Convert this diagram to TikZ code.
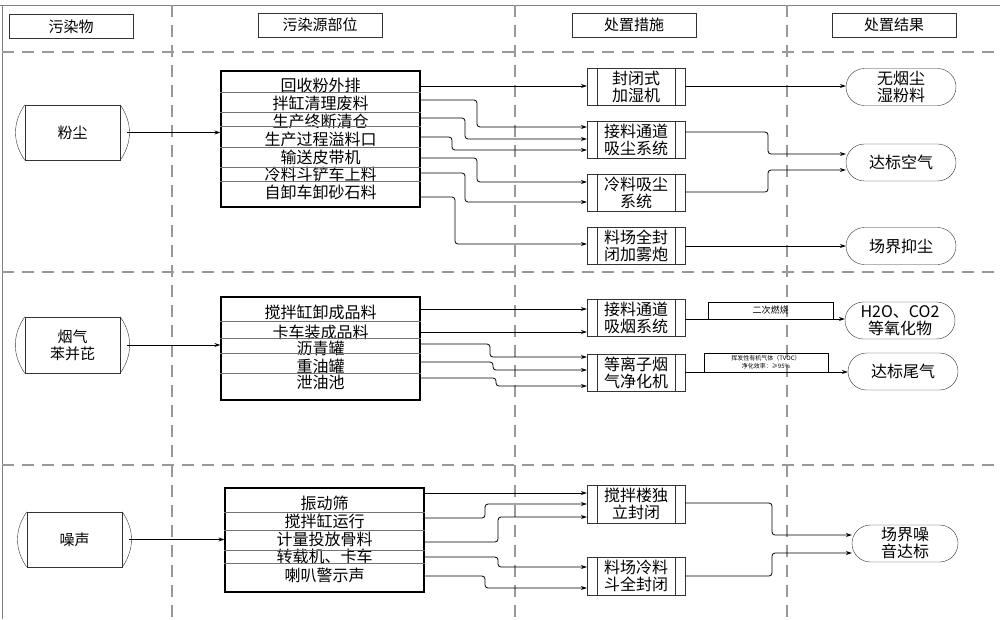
\documentclass[tikz,border=0pt]{standalone}
\usepackage{fontspec}
\setmainfont{Noto Sans CJK SC}
\usetikzlibrary{arrows.meta,shapes.misc}

\begin{document}
\begin{tikzpicture}[x = {(1pt,0pt)},
                    y = {(0pt,-1pt)},
                    color = {black}]
% styles of lanes, boxes and lines
\tikzset{laneline/.style={draw=black!40,line width=1.2pt,dash pattern=on 12pt off 8pt},
         hdbox/.style={draw=black!80,thin,minimum width=124pt,minimum height=24pt,inner sep=0pt,font=\fontsize{15}{17}\selectfont},
         pollu/.style={draw=black!80,thin,minimum width=95pt,minimum height=55pt,inner sep=0pt,align=center,
                       font=\fontsize{15}{17}\selectfont,
                       append after command={(\tikzlastnode.north west) edge[bend right=35,draw=black!80,thin] (\tikzlastnode.south west)
                                             (\tikzlastnode.north east) edge[bend left=35,draw=black!80,thin] (\tikzlastnode.south east)}},
         srcbox/.style={draw,line width=1.3pt,minimum width=199pt,inner sep=0pt},
         srcrow/.style={inner sep=0pt,font=\fontsize{16}{17}\selectfont},
         rowline/.style={draw=black!55,thin},
         proc/.style={draw=black!80,thin,minimum width=98pt,minimum height=37pt,inner sep=0pt,align=center,
                      font=\fontsize{16}{17}\selectfont,
                      path picture={\draw[black!80,thin] ([xshift=10pt]path picture bounding box.north west) -- ([xshift=10pt]path picture bounding box.south west)
                                    ([xshift=-10pt]path picture bounding box.north east) -- ([xshift=-10pt]path picture bounding box.south east);}},
         endbox/.style={draw=black!80,thin,rounded rectangle,minimum width=110pt,minimum height=37pt,inner sep=0pt,align=center,
                        font=\fontsize{16}{17}\selectfont},
         tagbox/.style={draw,thin,inner sep=0pt,align=center},
         flowline/.style={line width=0.8pt,rounded corners=3pt,-{Stealth[length=6pt,width=4pt]}}}
\useasboundingbox (0,0) rectangle (1000,619);

%frame and lanes
\draw [draw=black!50, line width=1pt] (0,5) -- (1000,5);
\draw [draw=black!50, line width=1pt] (2,5) -- (2,619);
\foreach \xx in {172,515,787}
  \draw [laneline] (\xx,5) -- (\xx,619);
\foreach \yy in {52,272,465}
  \draw [laneline] (2,\yy) -- (1000,\yy);

%headers
\node [hdbox] (hd1) at (71,26.5) {污染物};
\node [hdbox] (hd2) at (320,25) {污染源部位};
\node [hdbox] (hd3) at (634,25) {处置措施};
\node [hdbox] (hd4) at (894,25) {处置结果};

%dust
\node [pollu] (p1) at (72.5,132.5) {粉尘};
\node [srcbox, minimum height=136pt] (s1) at (320.5,139) {};
\foreach \t/\yy [count=\i] in {回收粉外排/85,拌缸清理废料/103,生产终断清仓/121,生产过程溢料口/139,输送皮带机/157,冷料斗铲车上料/174,自卸车卸砂石料/192}
  \node [srcrow] (s1r\i) at (s1.center |- 0,\yy) {\t};
\foreach \yy in {92,112,126,147,167,181}
  \draw [rowline] (s1.west |- 0,\yy) -- (s1.east |- 0,\yy);
\node [proc] (m11) at (636,86.5) {封闭式\\加湿机};
\node [proc] (m12) at (636,139.5) {接料通道\\吸尘系统};
\node [proc] (m13) at (636,192.5) {冷料吸尘\\系统};
\node [proc] (m14) at (636,245.5) {料场全封\\闭加雾炮};
\node [endbox] (e11) at (901,87) {无烟尘\\湿粉料};
\node [endbox] (e12) at (901,162.5) {达标空气};
\node [endbox] (e13) at (901,246) {场界抑尘};

\draw [flowline] ([xshift=7pt]p1.east) -- (s1.west |- p1.east);
\draw [flowline] (s1.east |- 0,86) -- (m11.west |- 0,86);
\foreach \ya/\xb/\yb/\m in {100/477/127/m12,118/465/139/m12,137/452/150/m12,158/477/182/m13,173/465/202/m13,197/455/244/m14}
  \draw [flowline] (s1.east |- 0,\ya) -| (\xb,\yb) -- (\m.west |- 0,\yb);
\draw [flowline] (m11.east |- 0,86) -- (e11.west |- 0,86);
\draw [flowline] (m12.east |- 0,132) -| (768,154) -- (e12.west |- 0,154);
\draw [flowline] (m13.east |- 0,192) -| (768,170) -- (e12.west |- 0,170);
\draw [flowline] (m14.east |- 0,246) -- (e13.west |- 0,246);

%fume
\node [pollu, minimum height=56pt] (p2) at (72.5,345) {烟气\\苯并芘};
\node [srcbox, minimum height=103pt] (s2) at (320.5,348.5) {};
\foreach \t/\yy [count=\i] in {搅拌缸卸成品料/312,卡车装成品料/332,沥青罐/348,重油罐/366,泄油池/382}
  \node [srcrow] (s2r\i) at (s2.center |- 0,\yy) {\t};
\foreach \yy in {321,338,353,373}
  \draw [rowline] (s2.west |- 0,\yy) -- (s2.east |- 0,\yy);
\node [proc] (m21) at (636,317.5) {接料通道\\吸烟系统};
\node [proc] (m22) at (636,372.5) {等离子烟\\气净化机};
\node [tagbox, minimum width=125pt, minimum height=17pt, font=\fontsize{9}{10}\selectfont] (t21) at (770.5,310.5) {二次燃烧};
\node [tagbox, minimum width=124pt, minimum height=19pt, font=\fontsize{6}{8}\selectfont] (t22) at (766,362.5) {挥发性有机气体（TVOC）\\净化效率：≥95\%};
\node [endbox] (e21) at (900,320.5) {H2O、CO2\\等氧化物};
\node [endbox] (e22) at (903,371.5) {达标尾气};

\draw [flowline] ([xshift=7pt]p2.east) -- (s2.west |- p2.east);
\draw [flowline] (s2.east |- 0,309) -- (m21.west |- 0,309);
\draw [flowline] (s2.east |- 0,332) -- (m21.west |- 0,332);
\foreach \ya/\xb/\yb in {344/490/357,362/493/370,378/496/386}
  \draw [flowline] (s2.east |- 0,\ya) -| (\xb,\yb) -- (m22.west |- 0,\yb);
\draw [flowline] (m21.east |- 0,319) -- (e21.west |- 0,319);
\draw [flowline] (m22.east |- 0,372) -- (e22.west |- 0,372);

%noise
\node [pollu] (p3) at (74.5,539.5) {噪声};
\node [srcbox, minimum height=104pt] (s3) at (324.5,540) {};
\foreach \t/\yy [count=\i] in {振动筛/503,搅拌缸运行/521,计量投放骨料/539,转载机、卡车/556,喇叭警示声/575}
  \node [srcrow] (s3r\i) at (s3.center |- 0,\yy) {\t};
\foreach \yy in {512,530,550,563}
  \draw [rowline] (s3.west |- 0,\yy) -- (s3.east |- 0,\yy);
\node [proc, minimum height=38pt] (m31) at (636,504) {搅拌楼独\\立封闭};
\node [proc, minimum height=38pt] (m32) at (636,576) {料场冷料\\斗全封闭};
\node [endbox, minimum width=106pt] (e31) at (905,543.5) {场界噪\\音达标};

\draw [flowline] ([xshift=7pt]p3.east) -- (s3.west |- p3.east);
\draw [flowline] (s3.east |- 0,493) -- (m31.west |- 0,493);
\foreach \ya/\xb/\yb/\m in {518/485/504/m31,542/498/517/m31,557/498/567/m32,576/485/588/m32}
  \draw [flowline] (s3.east |- 0,\ya) -| (\xb,\yb) -- (\m.west |- 0,\yb);
\draw [flowline] (m31.east |- 0,503) -| (772,535) -- (e31.west |- 0,535);
\draw [flowline] (m32.east |- 0,576) -| (772,553) -- (e31.west |- 0,553);
\end{tikzpicture}
\end{document}
